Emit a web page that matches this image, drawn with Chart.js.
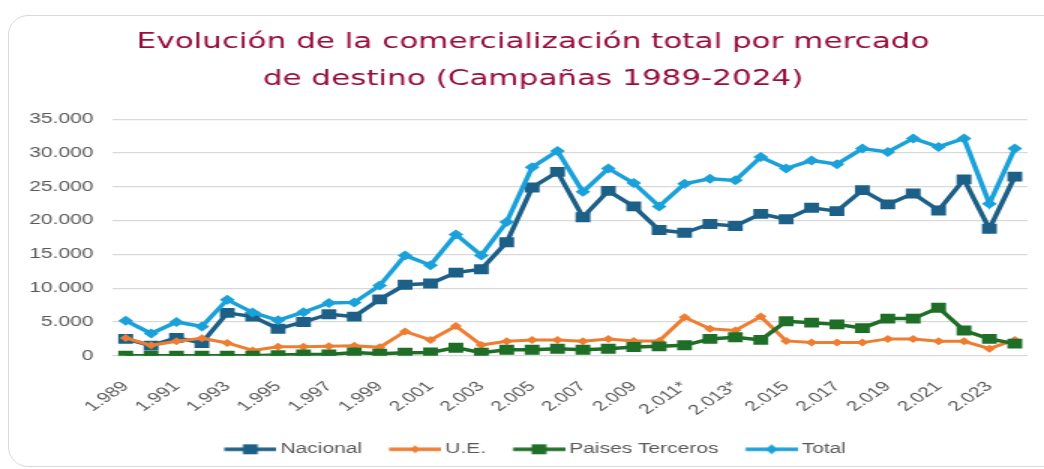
<!DOCTYPE html>
<html>
<head>
<meta charset="utf-8">
<script src="https://cdn.jsdelivr.net/npm/chart.js@4/dist/chart.umd.min.js"></script>
<style>
  html, body { margin: 0; padding: 0; background: #ffffff; overflow: hidden; }
  body { width: 1044px; height: 469px; position: relative; }
  #frame { position: absolute; left: 8px; top: 15px; width: 1060px; height: 450px;
           border: 1.5px solid #dadada; border-radius: 20px; }
  #wrap { position: absolute; left: 0; top: 0; width: 696px; height: 469px;
          transform: scaleX(1.5); transform-origin: 0 0; }
</style>
</head>
<body>
<div id="frame"></div>
<div id="wrap"><canvas id="c"></canvas></div>
<script>
const years = ['1.989','1.990','1.991','1.992','1.993','1.994','1.995','1.996','1.997','1.998',
  '1.999','2.000','2.001','2.002','2.003','2.004','2.005','2.006','2.007','2.008',
  '2.009','2.010','2.011*','2.012','2.013*','2.014','2.015','2.016','2.017','2.018',
  '2.019','2.020','2.021','2.022','2.023','2.024'];

const nacional = [2500, 1500, 2650, 1900, 6350, 5800, 4000, 5000, 6150, 5800,
  8350, 10500, 10700, 12300, 12800, 16800, 24900, 27200, 20500, 24400,
  22100, 18600, 18200, 19500, 19200, 21000, 20200, 21900, 21400, 24500,
  22400, 24000, 21500, 26100, 18800, 26500];

const ue = [2650, 1550, 2150, 2600, 1900, 800, 1350, 1350, 1400, 1500,
  1250, 3600, 2350, 4400, 1600, 2150, 2350, 2350, 2150, 2500,
  2200, 2200, 5700, 4000, 3750, 5800, 2200, 1950, 1950, 1950,
  2500, 2500, 2150, 2150, 1050, 2350];

const terceros = [0, 0, 0, 0, 0, 0, 100, 200, 200, 500,
  300, 450, 500, 1200, 450, 900, 900, 1050, 900, 1050,
  1300, 1400, 1550, 2500, 2750, 2350, 5100, 4900, 4650, 4100,
  5500, 5500, 7100, 3750, 2500, 1800];

const total = [5200, 3300, 5000, 4350, 8300, 6400, 5250, 6450, 7800, 7900,
  10400, 14850, 13400, 17950, 14850, 19800, 27900, 30300, 24250, 27700,
  25550, 22100, 25450, 26200, 25950, 29400, 27700, 28900, 28350, 30650,
  30150, 32150, 30900, 32150, 22500, 30650];

const yTicks = [0, 5000, 10000, 15000, 20000, 25000, 30000, 35000];

const titleLines = ['Evolución de la comercialización total por mercado', 'de destino (Campañas 1989-2024)'];

const C_NAC = '#1c5f87', C_UE = '#ee7d31', C_PT = '#1f6e27', C_TOT = '#1aa1da';

// legend swatch: line with marker (Excel style)
const BOXW = 47.4, IMGW = 56, IMGH = 14;
function swatch(color, style, r) {
  const cv = document.createElement('canvas');
  cv.width = IMGW; cv.height = IMGH;
  const g = cv.getContext('2d');
  const x0 = IMGW - 34.7, x1 = IMGW, cy = IMGH / 2, cx = (x0 + x1) / 2;
  g.strokeStyle = color; g.lineWidth = 3.5;
  g.beginPath(); g.moveTo(x0, cy); g.lineTo(x1, cy); g.stroke();
  g.fillStyle = color;
  g.beginPath();
  if (style === 'rect') { const s = r * Math.SQRT1_2; g.rect(cx - s, cy - s, 2 * s, 2 * s); }
  else { g.moveTo(cx, cy - r); g.lineTo(cx + r * 0.8, cy); g.lineTo(cx, cy + r); g.lineTo(cx - r * 0.8, cy); g.closePath(); }
  g.fill();
  return cv;
}

const tickFont = {family: '"Liberation Sans", Arial, sans-serif', size: 14};
const legendFont = {family: '"Liberation Sans", Arial, sans-serif', size: 14};

function ds(label, data, color, style, r, order, bw) {
  return {
    label, data, order,
    borderColor: color, backgroundColor: color,
    pointBackgroundColor: color, pointBorderColor: color,
    borderWidth: bw, pointStyle: style, pointRadius: r, pointHoverRadius: r,
    pointBorderWidth: 0, tension: 0, fill: false
  };
}

const swatches = [swatch(C_NAC, 'rect', 7), swatch(C_UE, 'rectRot', 4), swatch(C_PT, 'rect', 7), swatch(C_TOT, 'rectRot', 5)];

// small horizontal nudges of the title and legend boxes after layout
const nudge = {
  id: 'nudge',
  afterLayout(chart) {
    const t = chart.titleBlock;
    if (t) { t.left += 9.6; t.right += 9.6; }
    const l = chart.legend;
    if (l) { l.left += 2.5; l.right += 2.5; }
  }
};

new Chart(document.getElementById('c'), {
  type: 'line',
  data: {
    labels: years,
    datasets: [
      ds('Nacional', nacional, C_NAC, 'rect', 7, 4, 3.5),
      ds('U.E.', ue, C_UE, 'rectRot', 4, 3, 3),
      ds('Paises Terceros', terceros, C_PT, 'rect', 7, 2, 3.5),
      ds('Total', total, C_TOT, 'rectRot', 5, 1, 3.5)
    ]
  },
  plugins: [nudge],
  options: {
    responsive: true,
    maintainAspectRatio: false,
    animation: false,
    devicePixelRatio: 1,
    layout: {padding: {left: 6.5, right: 11, top: 24.5, bottom: 2.7}},
    plugins: {
      tooltip: {enabled: false},
      title: {
        display: true,
        text: titleLines,
        color: '#960c3c',
        font: {family: '"DejaVu Sans", Verdana, sans-serif', size: 20.7, weight: 'normal', lineHeight: 1.78},
        padding: {top: 0, bottom: 21}
      },
      legend: {
        position: 'bottom',
        labels: {
          usePointStyle: true,
          pointStyleWidth: BOXW,
          padding: 1,
          color: '#595959',
          font: legendFont,
          generateLabels(chart) {
            return chart.data.datasets.map((d, i) => ({
              text: d.label, datasetIndex: i, pointStyle: swatches[i],
              fillStyle: d.borderColor, strokeStyle: d.borderColor, lineWidth: 0,
              fontColor: '#595959', hidden: false
            }));
          }
        }
      }
    },
    scales: {
      x: {
        offset: true,
        grid: {display: false, drawTicks: false},
        border: {display: false},
        afterFit(axis) { axis.paddingLeft = 0; axis.paddingRight = 0; },
        ticks: {
          autoSkip: false, maxRotation: 45, minRotation: 45, padding: 22.5,
          color: '#595959', font: tickFont,
          callback(v, i) { return i % 2 === 0 ? years[i] : ''; }
        }
      },
      y: {
        min: 0, max: 35000,
        afterBuildTicks(axis) { axis.ticks = yTicks.map(v => ({value: v})); },
        grid: {color: '#d9d9d9', lineWidth: 1.2, drawTicks: false},
        border: {display: false},
        ticks: {
          padding: 13, color: '#595959', font: tickFont,
          callback(v) { return v === 0 ? '0' : v.toLocaleString('de-DE'); }
        }
      }
    }
  }
});
</script>
</body>
</html>
